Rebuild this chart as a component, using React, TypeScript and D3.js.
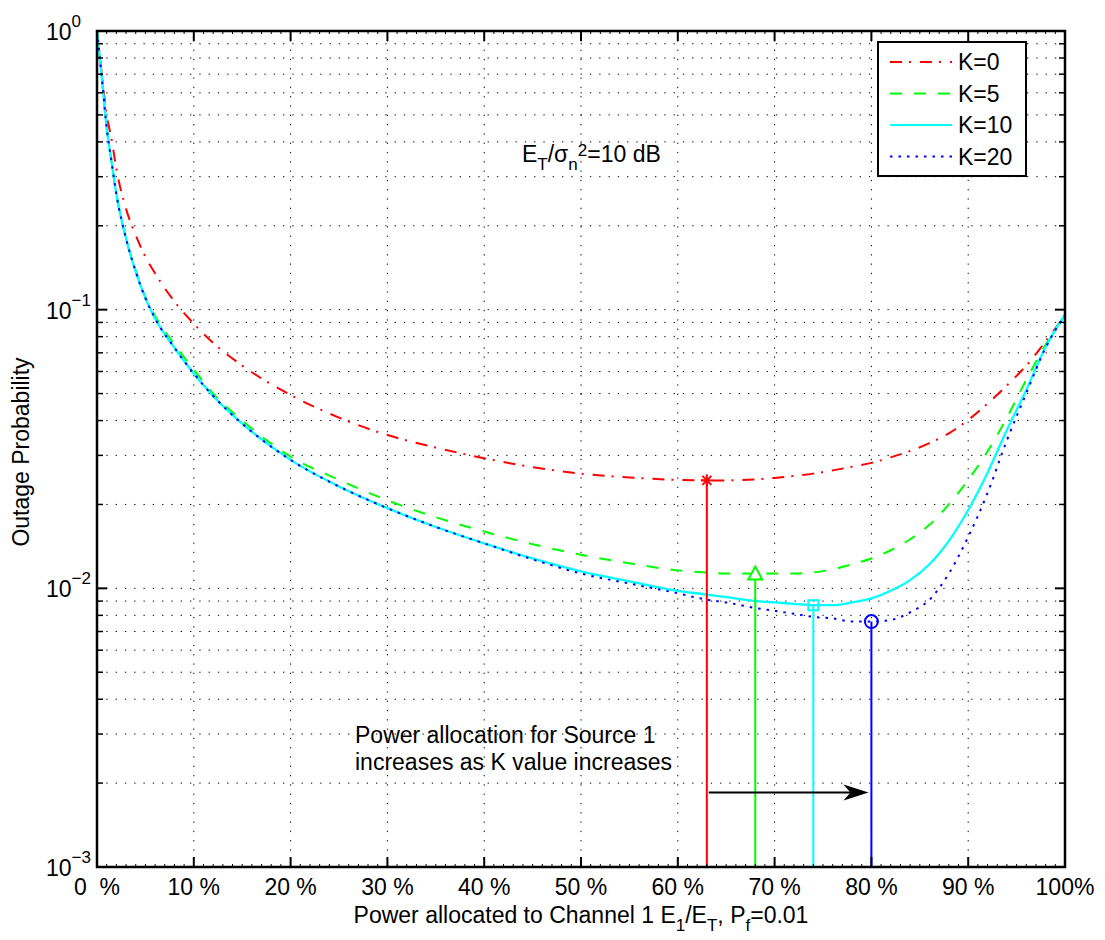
import React from 'react';
import * as d3 from 'd3';

// power allocated to channel 1 (%)
const xPct = [0, 0.5, 1, 1.5, 2, 3, 4, 5, 6, 8, 10, 12, 15, 20, 25, 30, 35, 40, 45, 50, 55, 60, 63, 65, 68, 70, 72, 74, 76, 78, 80, 82, 84, 86, 88, 90, 92, 94, 96, 98, 100];

// outage probability for each K
const k0 = [1.0, 0.70, 0.50, 0.41, 0.32, 0.23, 0.185, 0.155, 0.135, 0.107, 0.089, 0.076, 0.063, 0.0494, 0.041, 0.0355, 0.032, 0.0293, 0.0272, 0.0258, 0.025, 0.0245, 0.0244, 0.0244, 0.0246, 0.0249, 0.0253, 0.0258, 0.0265, 0.0273, 0.0282, 0.0295, 0.0311, 0.0332, 0.036, 0.0402, 0.046, 0.0535, 0.063, 0.077, 0.0957];
const k5 = [1.0, 0.68, 0.45, 0.34, 0.26, 0.18, 0.138, 0.111, 0.095, 0.075, 0.061, 0.05, 0.04, 0.0297, 0.0245, 0.0207, 0.018, 0.016, 0.0144, 0.0132, 0.0123, 0.0116, 0.0114, 0.0113, 0.0113, 0.0113, 0.0113, 0.0114, 0.0117, 0.0122, 0.0128, 0.0137, 0.015, 0.0169, 0.02, 0.0245, 0.031, 0.041, 0.056, 0.075, 0.0957];
const k10 = [1.0, 0.68, 0.45, 0.34, 0.26, 0.18, 0.137, 0.11, 0.093, 0.073, 0.059, 0.049, 0.039, 0.0289, 0.0232, 0.0194, 0.0166, 0.0145, 0.0128, 0.0115, 0.0106, 0.0098, 0.0095, 0.0093, 0.009, 0.0089, 0.0088, 0.0087, 0.0087, 0.0089, 0.0092, 0.0098, 0.0107, 0.0122, 0.0148, 0.0191, 0.026, 0.037, 0.0515, 0.0736, 0.0957];
const k20 = [1.0, 0.68, 0.45, 0.34, 0.26, 0.18, 0.137, 0.11, 0.093, 0.073, 0.059, 0.049, 0.039, 0.0289, 0.0232, 0.0194, 0.0166, 0.0145, 0.0127, 0.0113, 0.0104, 0.0096, 0.0091, 0.0089, 0.0085, 0.0083, 0.0081, 0.0079, 0.0078, 0.0076, 0.0076, 0.0077, 0.0082, 0.0091, 0.0113, 0.0153, 0.022, 0.034, 0.0501, 0.073, 0.0957];

const seriesNames = ['K=0', 'K=5', 'K=10', 'K=20'];
const seriesColors = ['#ff0000', '#00ff00', '#00ffff', '#0000ff'];
const seriesDash = ['12 7 2 9', '12 12', null, '2.5 6'];

// optimum points (stems)
const optX = [63, 68, 74, 80];
const optY = [0.0244, 0.0113, 0.0087, 0.0076];

const xTicks = [0, 10, 20, 30, 40, 50, 60, 70, 80, 90, 100];
const xTickLabels = ['0  %', '10 %', '20 %', '30 %', '40 %', '50 %', '60 %', '70 %', '80 %', '90 %', '100%'];
const yExps = [-3, -2, -1, 0];
const yExpLabels = ['\u22123', '\u22122', '\u22121', '0'];

const arrowX = [63.2, 79.7];
const arrowY = 0.00185;

const W = 1105;
const H = 940;
const font = '"Liberation Sans", Arial, sans-serif';
const FS = 23;

const App = () => {
  const x = d3.scaleLinear().domain([0, 100]).range([97, 1065]);
  const y = d3.scaleLog().domain([1e-3, 1]).range([867, 31]);
  const [x0, x1] = x.range();
  const [y0, y1] = y.range();

  const series = [k0, k5, k10, k20];
  const line = d3.line<number>()
    .x((d, i) => x(xPct[i]))
    .y(d => y(d))
    .curve(d3.curveMonotoneX);

  // minor log ticks
  const minorY: number[] = [];
  yExps.slice(0, 3).forEach(e => {
    for (let m = 2; m <= 9; m++) minorY.push(m * Math.pow(10, e));
  });
  const majorY = yExps.map(e => Math.pow(10, e));
  const minorX = d3.range(1, 100).filter(v => v % 10 !== 0);

  const grid = { stroke: '#000', strokeWidth: 1, strokeDasharray: '1.3 8' };

  const marker = (i: number) => {
    const cx = x(optX[i]);
    const cy = y(optY[i]);
    const c = seriesColors[i];
    if (i === 0) {
      const r = 6;
      const d = r * 0.75;
      return (
        <g stroke={c} strokeWidth={2}>
          <line x1={cx - r} y1={cy} x2={cx + r} y2={cy} />
          <line x1={cx} y1={cy - r} x2={cx} y2={cy + r} />
          <line x1={cx - d} y1={cy - d} x2={cx + d} y2={cy + d} />
          <line x1={cx - d} y1={cy + d} x2={cx + d} y2={cy - d} />
        </g>
      );
    }
    if (i === 1) {
      return <path d={`M${cx},${cy - 7} L${cx + 7},${cy + 6} L${cx - 7},${cy + 6} Z`} fill="white" stroke={c} strokeWidth={2} />;
    }
    if (i === 2) {
      return <rect x={cx - 5} y={cy - 5} width={10} height={10} fill="none" stroke={c} strokeWidth={2} />;
    }
    return <circle cx={cx} cy={cy} r={6.5} fill="none" stroke={c} strokeWidth={2} />;
  };

  const ay = y(arrowY);
  const ax0 = x(arrowX[0]);
  const ax1 = x(arrowX[1]);

  return (
    <svg width={W} height={H} style={{ position: 'absolute', left: 0, top: 0, background: '#fff' }} fontFamily={font}>
      <rect x={0} y={0} width={W} height={H} fill="#fff" />

      {/* grid */}
      {xTicks.slice(1, -1).map(t => (
        <line key={'gx' + t} x1={x(t)} x2={x(t)} y1={y1} y2={y0} {...grid} />
      ))}
      {[...minorY, ...majorY].map(v => (
        <line key={'gy' + v} x1={x0} x2={x1} y1={y(v)} y2={y(v)} {...grid} />
      ))}

      {/* curves */}
      {series.map((s, i) => (
        <path key={seriesNames[i]} d={line(s) || ''} fill="none" stroke={seriesColors[i]}
          strokeWidth={i === 2 ? 2.3 : 2} strokeDasharray={seriesDash[i] || undefined} />
      ))}

      {/* stems and markers */}
      {optX.map((v, i) => (
        <g key={'stem' + i}>
          <line x1={x(v)} x2={x(v)} y1={y(optY[i])} y2={y0} stroke={seriesColors[i]} strokeWidth={2} />
          {marker(i)}
        </g>
      ))}

      {/* annotations */}
      <text x={522} y={162} fontSize={FS}>
        E<tspan fontSize={17} y={170}>T</tspan>
        <tspan y={162}>/σ</tspan>
        <tspan fontSize={17} y={170}>n</tspan>
        <tspan fontSize={17} y={156}>2</tspan>
        <tspan y={162}>=10 dB</tspan>
      </text>
      <text x={355} y={743} fontSize={FS}>Power allocation for Source 1</text>
      <text x={355} y={770} fontSize={FS}>increases as K value increases</text>
      <line x1={ax0} x2={ax1 - 10} y1={ay} y2={ay} stroke="#000" strokeWidth={2} />
      <path d={`M${ax1},${ay} L${ax1 - 25},${ay - 8} L${ax1 - 18},${ay} L${ax1 - 25},${ay + 8} Z`} fill="#000" />

      {/* axes box and ticks */}
      <rect x={x0} y={y1} width={x1 - x0} height={y0 - y1} fill="none" stroke="#000" strokeWidth={2.5} />
      {xTicks.map(t => (
        <g key={'xt' + t} stroke="#000" strokeWidth={2}>
          <line x1={x(t)} x2={x(t)} y1={y0} y2={y0 - 10} />
          <line x1={x(t)} x2={x(t)} y1={y1} y2={y1 + 10} />
        </g>
      ))}
      {minorX.map(t => (
        <g key={'xm' + t} stroke="#000" strokeWidth={1}>
          <line x1={x(t)} x2={x(t)} y1={y0} y2={y0 - 3} />
          <line x1={x(t)} x2={x(t)} y1={y1} y2={y1 + 3} />
        </g>
      ))}
      {majorY.map(v => (
        <g key={'ym' + v} stroke="#000" strokeWidth={2}>
          <line x1={x0} x2={x0 + 10} y1={y(v)} y2={y(v)} />
          <line x1={x1} x2={x1 - 10} y1={y(v)} y2={y(v)} />
        </g>
      ))}
      {minorY.map(v => (
        <g key={'yn' + v} stroke="#000" strokeWidth={1.5}>
          <line x1={x0} x2={x0 + 6} y1={y(v)} y2={y(v)} />
          <line x1={x1} x2={x1 - 6} y1={y(v)} y2={y(v)} />
        </g>
      ))}

      {/* tick labels */}
      {xTicks.map((t, i) => (
        <text key={'xl' + t} x={x(t)} y={895} fontSize={FS} textAnchor="middle" style={{ whiteSpace: 'pre' }}>
          {xTickLabels[i]}
        </text>
      ))}
      {yExps.map((e, i) => (
        <text key={'yl' + e} x={46} y={y(Math.pow(10, e)) + 9} fontSize={FS}>
          10<tspan fontSize={17} dy={-13}>{yExpLabels[i]}</tspan>
        </text>
      ))}

      {/* axis labels */}
      <text x={581} y={923} fontSize={FS} textAnchor="middle">
        Power allocated to Channel 1 E<tspan fontSize={17} dy={8}>1</tspan>
        <tspan dy={-8}>/E</tspan>
        <tspan fontSize={17} dy={8}>T</tspan>
        <tspan dy={-8}>, P</tspan>
        <tspan fontSize={17} dy={8}>f</tspan>
        <tspan dy={-8}>=0.01</tspan>
      </text>
      <text transform="translate(29,452) rotate(-90)" fontSize={FS} textAnchor="middle">Outage Probability</text>

      {/* legend */}
      <rect x={878} y={42} width={148} height={134} fill="#fff" stroke="#000" strokeWidth={2} />
      {seriesNames.map((n, i) => {
        const ly = 62 + i * 31.5;
        return (
          <g key={'lg' + n}>
            <line x1={890} x2={952} y1={ly} y2={ly} stroke={seriesColors[i]} strokeWidth={2}
              strokeDasharray={seriesDash[i] || undefined} />
            <text x={958} y={ly + 8} fontSize={FS}>{n}</text>
          </g>
        );
      })}
    </svg>
  );
};

export default App;
